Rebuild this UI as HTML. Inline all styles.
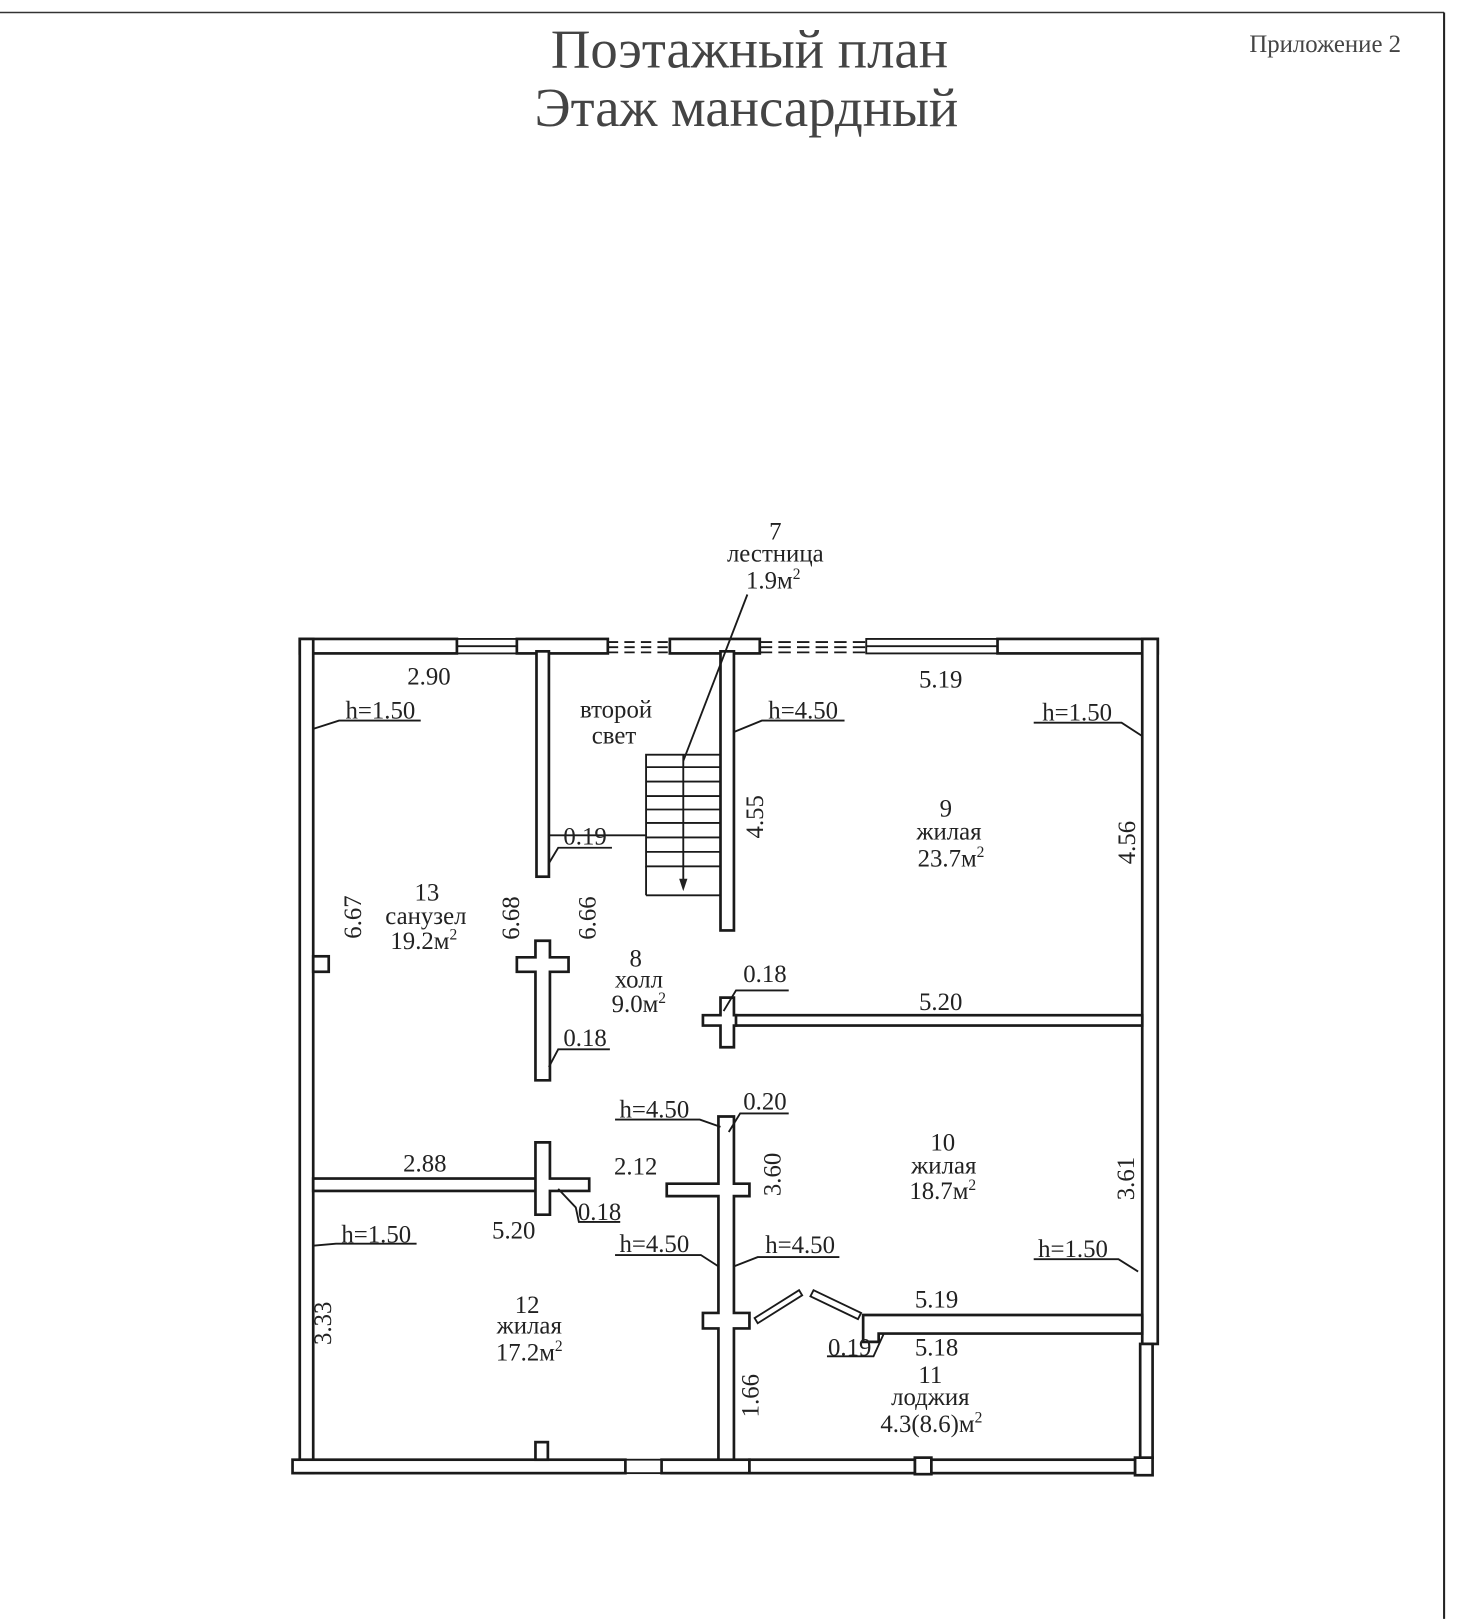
<!DOCTYPE html>
<html><head><meta charset="utf-8"><style>
html,body{margin:0;padding:0;background:#fff;}
svg{display:block}
text{font-family:"Liberation Serif",serif;fill:#222;}
.w{fill:#fff;stroke:#1a1a1a;stroke-width:2.6}
.l{stroke:#1a1a1a;stroke-width:1.8;fill:none}
.t{font-size:24px;}
.c{text-anchor:middle}
</style></head><body>
<svg width="1472" height="1619" viewBox="0 0 1424 1566" xmlns="http://www.w3.org/2000/svg">
<rect x="0" y="0" width="1424" height="1566" fill="#fff"/>
<line x1="0" y1="12" x2="1397" y2="12" stroke="#333" stroke-width="1.5"/>
<line x1="1397" y1="12" x2="1397" y2="1566" stroke="#222" stroke-width="2"/>
<text x="725" y="65" class="c" style="font-size:53px;fill:#444">Поэтажный план</text>
<text x="722" y="122" class="c" style="font-size:53px;fill:#444">Этаж мансардный</text>
<text x="1282" y="50" class="c" style="font-size:24px;fill:#444">Приложение 2</text>

<g class="w">
<rect x="290" y="618" width="152" height="14"/>
<rect x="500" y="618" width="88" height="14"/>
<rect x="648" y="618" width="87" height="14"/>
<rect x="965" y="618" width="155" height="14"/>
<rect x="290" y="618" width="13" height="807"/>
<rect x="283" y="1412" width="322" height="13"/>
<rect x="640" y="1412" width="85" height="13"/>
<rect x="1105" y="618" width="15" height="682"/>
<rect x="519" y="630" width="12" height="218"/>
<rect x="697" y="630" width="13" height="270"/>
<rect x="708" y="982" width="397" height="10"/>
<path d="M697 965 H710 V982 H712 V992 H710 V1013 H697 V992 H680 V982 H697 Z"/>
<path d="M518 910 H532 V926 H550 V940 H532 V1045 H518 V940 H500 V926 H518 Z"/>
<rect x="303" y="1140" width="216" height="12"/>
<path d="M518 1105 H532 V1140 H570 V1152 H532 V1175 H518 Z"/>
<path d="M695 1080 H710 V1145 H725 V1157 H710 V1270 H725 V1285 H710 V1412 H695 V1285 H680 V1270 H695 V1157 H645 V1145 H695 Z"/>
<path d="M835 1272 H1105 V1290 H850 V1298 H835 Z"/>
<rect x="303" y="925" width="15" height="15"/>
<rect x="518" y="1395" width="12" height="17"/>
<rect x="885" y="1410" width="16" height="16"/>
<rect x="1098" y="1410" width="17" height="17"/>
<rect x="1103" y="1300" width="12" height="110"/>
<rect x="725" y="1412" width="160" height="13"/>
<rect x="901" y="1412" width="197" height="13"/>
</g>
<g class="l" stroke-width="1.5">
<rect x="442" y="618" width="58" height="14"/><line x1="442" y1="625" x2="500" y2="625"/>
<rect x="838" y="618" width="127" height="14"/><line x1="838" y1="625" x2="965" y2="625"/>
<rect x="605" y="1412" width="35" height="13"/>
<line x1="588" y1="621" x2="648" y2="621" stroke-dasharray="10 6"/>
<line x1="588" y1="626" x2="648" y2="626" stroke-dasharray="10 6"/>
<line x1="588" y1="631" x2="648" y2="631" stroke-dasharray="10 6"/>
<line x1="735" y1="621" x2="838" y2="621" stroke-dasharray="12 6"/>
<line x1="735" y1="626" x2="838" y2="626" stroke-dasharray="12 6"/>
<line x1="735" y1="631" x2="838" y2="631" stroke-dasharray="12 6"/>
<path d="M730 1275 L773 1248 L776 1253 L733 1280 Z"/>
<path d="M787 1248 L833 1270 L830 1276 L784 1254 Z"/>
</g>
<g class="l">
<rect x="625" y="730" width="72" height="108"/>
<line x1="625" y1="742" x2="697" y2="742"/><line x1="625" y1="756" x2="697" y2="756"/>
<line x1="625" y1="770" x2="697" y2="770"/><line x1="625" y1="783" x2="697" y2="783"/>
<line x1="625" y1="796" x2="697" y2="796"/><line x1="625" y1="810" x2="697" y2="810"/>
<line x1="625" y1="824" x2="697" y2="824"/>
<line x1="661" y1="730" x2="661" y2="855"/>
<line x1="625" y1="838" x2="625" y2="866"/><line x1="625" y1="866" x2="697" y2="866"/>
<line x1="661" y1="736" x2="723" y2="575"/>
<line x1="531" y1="808" x2="625" y2="808"/>
</g>
<path d="M657 850 L665 850 L661 862 Z" fill="#222"/>
<g class="l" stroke-width="1.5">
<path d="M303 705 L328 697 H407"/>
<path d="M710 708 L737 697 H817"/>
<path d="M1105 712 L1085 699 H1000"/>
<path d="M531 835 L540 820 H592"/>
<path d="M531 1032 L540 1015 H590"/>
<path d="M700 978 L712 958 H763"/>
<path d="M697 1090 L677 1083 H595"/>
<path d="M705 1095 L716 1077 H763"/>
<path d="M540 1150 L557 1168 L560 1182 H600"/>
<path d="M695 1225 L678 1214 H595"/>
<path d="M710 1225 L733 1216 H812"/>
<path d="M1101 1230 L1082 1218 H1000"/>
<path d="M303 1205 L325 1203 H403"/>
<path d="M855 1290 L845 1312 H800"/>
</g>
<g class="t">
<text x="750" y="522" class="c">7</text>
<text x="750" y="543" class="c">лестница</text>
<text x="748" y="569" class="c">1.9м<tspan dy="-9" font-size="15">2</tspan></text>
<text x="415" y="662" class="c">2.90</text>
<text x="910" y="665" class="c">5.19</text>
<text x="596" y="694" class="c">второй</text>
<text x="594" y="719" class="c">свет</text>
<text x="368" y="695" class="c">h=1.50</text>
<text x="777" y="695" class="c">h=4.50</text>
<text x="1042" y="697" class="c">h=1.50</text>
<text x="566" y="817" class="c">0.19</text>
<text x="915" y="790" class="c">9</text>
<text x="918" y="812" class="c">жилая</text>
<text x="920" y="838" class="c">23.7м<tspan dy="-9" font-size="15">2</tspan></text>
<text x="413" y="871" class="c">13</text>
<text x="412" y="894" class="c">санузел</text>
<text x="410" y="918" class="c">19.2м<tspan dy="-9" font-size="15">2</tspan></text>
<text x="615" y="935" class="c">8</text>
<text x="618" y="955" class="c">холл</text>
<text x="618" y="979" class="c">9.0м<tspan dy="-9" font-size="15">2</tspan></text>
<text x="740" y="950" class="c">0.18</text>
<text x="910" y="977" class="c">5.20</text>
<text x="566" y="1012" class="c">0.18</text>
<text x="633" y="1081" class="c">h=4.50</text>
<text x="740" y="1073" class="c">0.20</text>
<text x="912" y="1113" class="c">10</text>
<text x="913" y="1135" class="c">жилая</text>
<text x="912" y="1160" class="c">18.7м<tspan dy="-9" font-size="15">2</tspan></text>
<text x="411" y="1133" class="c">2.88</text>
<text x="615" y="1136" class="c">2.12</text>
<text x="497" y="1198" class="c">5.20</text>
<text x="580" y="1180" class="c">0.18</text>
<text x="364" y="1202" class="c">h=1.50</text>
<text x="633" y="1211" class="c">h=4.50</text>
<text x="774" y="1212" class="c">h=4.50</text>
<text x="1038" y="1216" class="c">h=1.50</text>
<text x="906" y="1265" class="c">5.19</text>
<text x="906" y="1311" class="c">5.18</text>
<text x="822" y="1311" class="c">0.19</text>
<text x="510" y="1270" class="c">12</text>
<text x="512" y="1290" class="c">жилая</text>
<text x="512" y="1316" class="c">17.2м<tspan dy="-9" font-size="15">2</tspan></text>
<text x="900" y="1338" class="c">11</text>
<text x="900" y="1359" class="c">лоджия</text>
<text x="901" y="1385" class="c">4.3(8.6)м<tspan dy="-9" font-size="15">2</tspan></text>
<text transform="translate(738,790) rotate(-90)" class="c">4.55</text>
<text transform="translate(1098,815) rotate(-90)" class="c">4.56</text>
<text transform="translate(349,887) rotate(-90)" class="c">6.67</text>
<text transform="translate(502,888) rotate(-90)" class="c">6.68</text>
<text transform="translate(576,888) rotate(-90)" class="c">6.66</text>
<text transform="translate(755,1136) rotate(-90)" class="c">3.60</text>
<text transform="translate(1097,1140) rotate(-90)" class="c">3.61</text>
<text transform="translate(320,1280) rotate(-90)" class="c">3.33</text>
<text transform="translate(734,1350) rotate(-90)" class="c">1.66</text>
</g>
</svg>
</body></html>
